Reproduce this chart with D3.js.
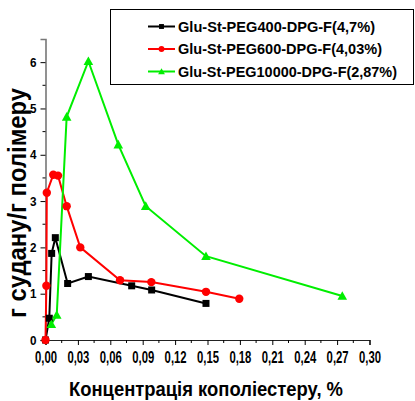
<!DOCTYPE html>
<html>
<head>
<meta charset="utf-8">
<script src="https://cdn.jsdelivr.net/npm/d3@7"></script>
<style>
  body { margin: 0; background: #fff; }
  svg text { font-family: "Liberation Sans", Arial, sans-serif; font-weight: bold; }
</style>
</head>
<body>
<div id="chart"></div>
<script>
const seriesNames = [
  "Glu-St-PEG400-DPG-F(4,7%)",
  "Glu-St-PEG600-DPG-F(4,03%)",
  "Glu-St-PEG10000-DPG-F(2,87%)"
];
const colors = ["#000000", "#ff0000", "#00ee00"];
const symbols = ["square", "circle", "triangle"];

const x400 = [0, 0.0035, 0.0057, 0.0091, 0.0205, 0.0397, 0.0798, 0.0983, 0.1486];
const y400 = [0, 0.47, 1.87, 2.21, 1.22, 1.37, 1.17, 1.08, 0.79];

const x600 = [0, 0.0008, 0.0012, 0.0072, 0.0116, 0.0196, 0.0322, 0.069, 0.098, 0.1486, 0.1794];
const y600 = [0, 1.17, 3.18, 3.57, 3.55, 2.89, 2.0, 1.29, 1.25, 1.04, 0.89];

const x10000 = [0.0054, 0.0104, 0.0196, 0.0397, 0.0674, 0.0928, 0.1486, 0.2748];
const y10000 = [0.34, 0.54, 4.82, 6.02, 4.22, 2.89, 1.81, 0.95];

const xTicks = [0, 0.03, 0.06, 0.09, 0.12, 0.15, 0.18, 0.21, 0.24, 0.27, 0.30];
const yTicks = [0, 1, 2, 3, 4, 5, 6];

const series = [
  { xs: x400, ys: y400 },
  { xs: x600, ys: y600 },
  { xs: x10000, ys: y10000 }
].map((s, i) => ({
  name: seriesNames[i], color: colors[i], symbol: symbols[i],
  points: s.xs.map((v, j) => ({ x: v, y: s.ys[j] }))
}));

const W = 415, H = 401;
const svg = d3.select("#chart").append("svg").attr("width", W).attr("height", H);

const x = d3.scaleLinear().domain([0, 0.30]).range([45.5, 369.5]);
const y = d3.scaleLinear().domain([0, 6.5]).range([340, 39]);

// Axes
const xAxis = d3.axisBottom(x).tickValues(xTicks).tickSize(5)
  .tickFormat(d => d3.format(".2f")(d).replace(".", ","));
const yAxis = d3.axisLeft(y).tickValues(yTicks).tickSize(5).tickFormat(d3.format("d"));

const gx = svg.append("g").attr("transform", `translate(0,${y(0)})`).call(xAxis);
const gy = svg.append("g").attr("transform", `translate(${x(0)},0)`).call(yAxis);

// minor ticks
gx.selectAll(".minor").data(d3.range(0.015, 0.30, 0.03)).join("line")
  .attr("x1", d => x(d)).attr("x2", d => x(d)).attr("y1", 0).attr("y2", 3)
  .attr("stroke", "#000");
gy.selectAll(".minor").data(d3.range(0.5, 6.5, 1)).join("line")
  .attr("y1", d => y(d)).attr("y2", d => y(d)).attr("x1", 0).attr("x2", -3)
  .attr("stroke", "#000");

gx.select(".domain").attr("stroke", "#222").attr("stroke-width", 1.2);
gy.select(".domain").attr("stroke", "#777").attr("stroke-width", 1.6);
[gx, gy].forEach(g => {
  g.selectAll(".tick line").attr("stroke", "#000");
  g.selectAll(".tick text").attr("fill", "#000").attr("font-family", null);
});
gx.selectAll(".tick text").attr("font-size", 16).attr("y", 23).attr("dy", null)
  .attr("textLength", 22).attr("lengthAdjust", "spacingAndGlyphs");
gy.selectAll(".tick text").attr("font-size", 13).attr("x", -9)
  .attr("textLength", 6.5).attr("lengthAdjust", "spacingAndGlyphs");

// Lines
const line = d3.line().x(d => x(d.x)).y(d => y(d.y));
series.forEach(s => {
  svg.append("path").datum(s.points)
    .attr("fill", "none").attr("stroke", s.color).attr("stroke-width", 2)
    .attr("d", line);
});

function marker(g, type, color, cx, cy, scale) {
  const k = scale || 1;
  if (type === "square") {
    g.append("rect").attr("x", cx - 3.5 * k).attr("y", cy - 3.5 * k)
      .attr("width", 7 * k).attr("height", 7 * k).attr("fill", color);
  } else if (type === "circle") {
    g.append("circle").attr("cx", cx).attr("cy", cy).attr("r", 4.2 * k).attr("fill", color);
  } else {
    const s = 4.8 * k;
    g.append("path").attr("d", `M${cx},${cy - s}L${cx + s},${cy + s * 0.8}L${cx - s},${cy + s * 0.8}Z`)
      .attr("fill", color);
  }
}

series.forEach(s => {
  const g = svg.append("g");
  s.points.forEach(p => marker(g, s.symbol, s.color, x(p.x), y(p.y)));
});

// Legend
const legendRows = [26.5, 49, 71.5];
const legendLen = [197, 204, 219];
const lg = svg.append("g");
lg.append("rect").attr("x", 110.5).attr("y", 9.5).attr("width", 303).attr("height", 75)
  .attr("fill", "#fff").attr("stroke", "#000").attr("stroke-width", 1);
series.forEach((s, i) => {
  const ly = legendRows[i];
  lg.append("line").attr("x1", 148).attr("x2", 175).attr("y1", ly).attr("y2", ly)
    .attr("stroke", s.color).attr("stroke-width", 2);
  marker(lg, s.symbol, s.color, 161.5, ly, 0.7);
  lg.append("text").attr("x", 178).attr("y", ly).attr("dy", "0.36em")
    .attr("font-size", 14.5).attr("fill", "#000")
    .attr("textLength", legendLen[i]).attr("lengthAdjust", "spacingAndGlyphs")
    .text(s.name);
});

// Axis titles
svg.append("text").attr("x", 69).attr("y", 396)
  .attr("font-size", 21).attr("fill", "#000")
  .attr("textLength", 274).attr("lengthAdjust", "spacingAndGlyphs")
  .text("Концентрація кополіестеру, %");
svg.append("text").attr("transform", "translate(26,318) rotate(-90)")
  .attr("font-size", 25).attr("fill", "#000")
  .attr("textLength", 230).attr("lengthAdjust", "spacingAndGlyphs")
  .text("г судану/г полімеру");
</script>
</body>
</html>
